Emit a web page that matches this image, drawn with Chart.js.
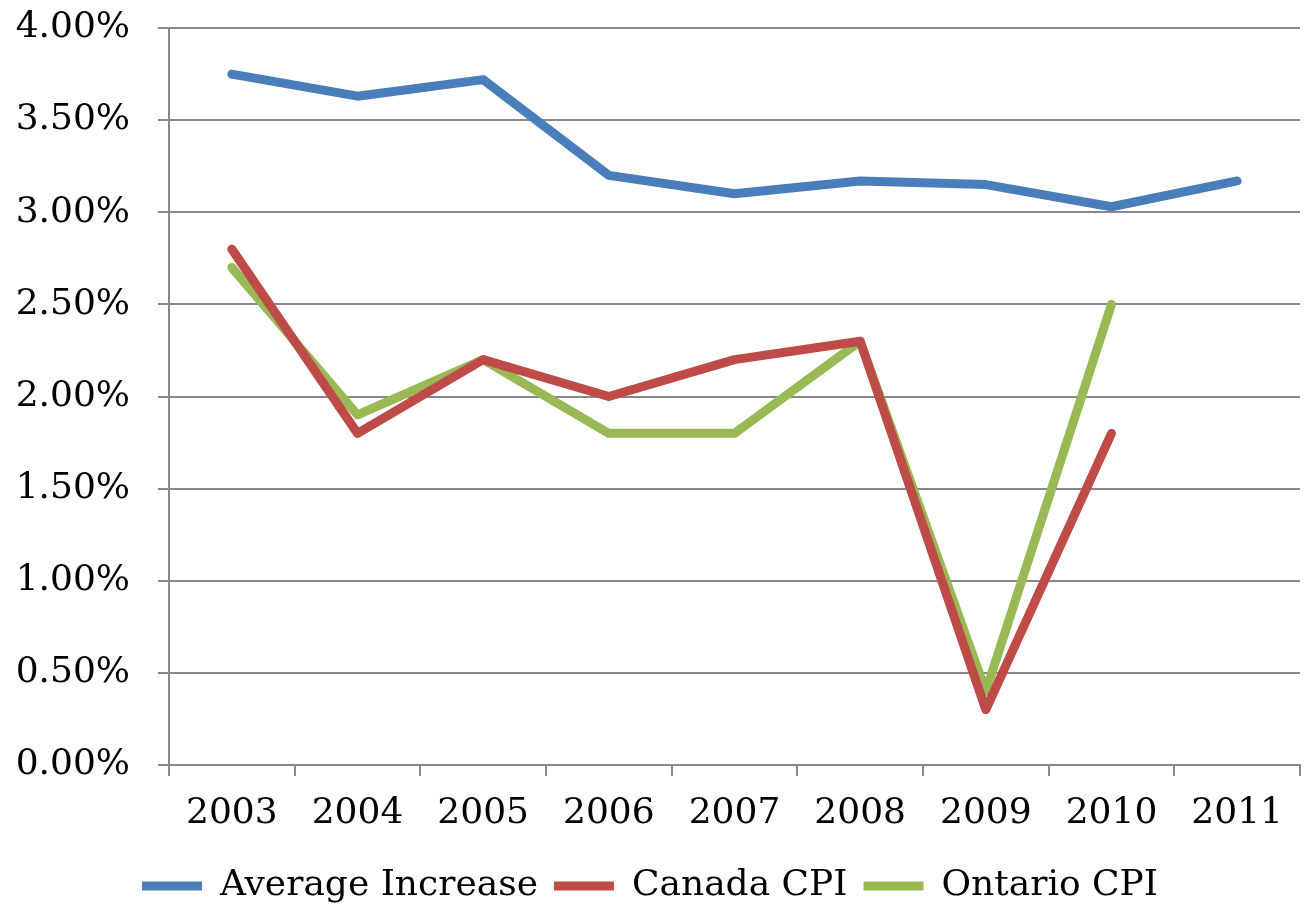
<!DOCTYPE html>
<html>
<head>
<meta charset="utf-8">
<script src="https://cdn.jsdelivr.net/npm/chart.js@4/dist/chart.umd.min.js"></script>
<style>
  html, body { margin: 0; padding: 0; background: #fff; }
  #wrap { width: 1305px; height: 914px; }
</style>
</head>
<body>
<div id="wrap"><canvas id="cpi"></canvas></div>
<script>
// years on the x axis
const years = ["2003", "2004", "2005", "2006", "2007", "2008", "2009", "2010", "2011"];
// values in percent
const averageIncrease = [3.75, 3.63, 3.72, 3.20, 3.10, 3.17, 3.15, 3.03, 3.17];
const canadaCPI = [2.8, 1.8, 2.2, 2.0, 2.2, 2.3, 0.3, 1.8, null];
const ontarioCPI = [2.7, 1.9, 2.2, 1.8, 1.8, 2.3, 0.4, 2.5, null];
const yTicks = [0, 0.5, 1, 1.5, 2, 2.5, 3, 3.5, 4];

const fontFamily = "'DejaVu Serif', serif";
const font = { family: fontFamily, size: 36 };

function lineSet(label, data, color){
    return {
        label: label,
        data: data,
        borderColor: color,
        backgroundColor: color,
        borderWidth: 9,
        borderCapStyle: "round",
        borderJoinStyle: "round",
        pointRadius: 0,
        tension: 0,
        spanGaps: false
    };
}

const ctx = document.getElementById("cpi");

new Chart(ctx, {
    type: "line",
    data: {
        labels: years,
        datasets: [
            lineSet("Average Increase", averageIncrease, "#4a7ebb"),
            lineSet("Canada CPI", canadaCPI, "#be4b48"),
            lineSet("Ontario CPI", ontarioCPI, "#98b954")
        ]
    },
    options: {
        responsive: true,
        maintainAspectRatio: false,
        animation: false,
        layout: { padding: { top: 28, right: 5, left: 0, bottom: 0 } },
        plugins: {
            legend: {
                position: "bottom",
                labels: {
                    font: { family: fontFamily, size: 36, lineHeight: 1 },
                    color: "#000",
                    usePointStyle: true,
                    pointStyle: "line",
                    pointStyleWidth: 60,
                    padding: 16
                }
            },
            tooltip: { enabled: false }
        },
        scales: {
            x: {
                offset: true,
                grid: {
                    offset: true,
                    drawOnChartArea: false,
                    color: "#888",
                    lineWidth: 2,
                    tickLength: 11
                },
                border: { color: "#888", width: 2 },
                ticks: {
                    font: { family: fontFamily, size: 36, lineHeight: 1 },
                    color: "#000",
                    padding: 20,
                    maxRotation: 0
                },
                afterFit: (scale) => { scale.paddingLeft = 0; scale.paddingRight = 0; }
            },
            y: {
                min: 0,
                max: 4,
                afterBuildTicks: (scale) => { scale.ticks = yTicks.map(v => ({ value: v })); },
                afterFit: (scale) => {
                    scale.width = 169;
                    scale.paddingTop = 0;
                    scale.paddingBottom = 0;
                },
                grid: { color: "#888", lineWidth: 2, tickLength: 11 },
                border: { color: "#888", width: 2 },
                ticks: {
                    font: font,
                    color: "#000",
                    padding: 28,
                    callback: (v) => v.toFixed(2) + "%"
                }
            }
        }
    }
});
</script>
</body>
</html>
